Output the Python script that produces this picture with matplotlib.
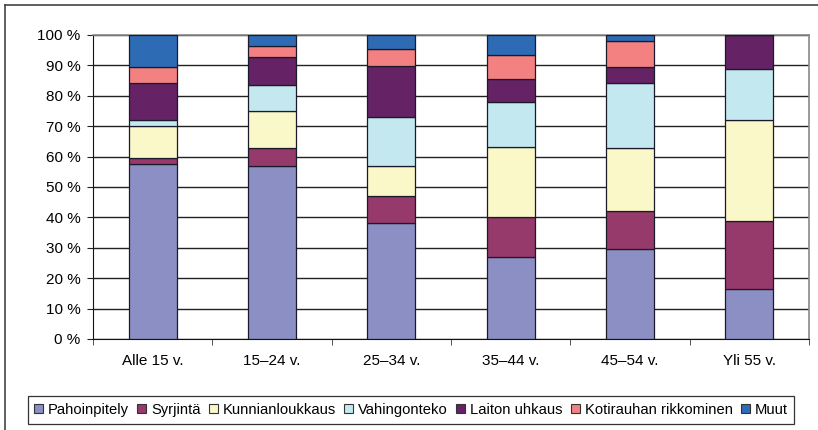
import numpy as np
import matplotlib
matplotlib.use("Agg")
import matplotlib.pyplot as plt
from matplotlib.patches import Patch
from matplotlib.lines import Line2D

plt.rcParams['font.family'] = ['Liberation Sans', 'DejaVu Sans']

categories = ["Alle 15 v.", "15\u201324 v.", "25\u201334 v.", "35\u201344 v.", "45\u201354 v.", "Yli 55 v."]
series_names = ["Pahoinpitely", "Syrjintä", "Kunnianloukkaus", "Vahingonteko",
                "Laiton uhkaus", "Kotirauhan rikkominen", "Muut"]

pahoinpitely = [57.5, 57.0, 38.2, 27.1, 29.5, 16.5]
syrjinta = [2.1, 5.9, 8.8, 12.9, 12.5, 22.3]
kunnianloukkaus = [10.5, 12.1, 10.0, 23.1, 20.8, 33.4]
vahingonteko = [2.1, 8.7, 15.9, 14.7, 21.3, 16.7]
laiton_uhkaus = [12.0, 9.0, 17.0, 7.7, 5.3, 11.1]
kotirauhan = [5.4, 3.6, 5.4, 7.9, 8.7, 0.0]
muut = [10.4, 3.7, 4.7, 6.6, 1.9, 0.0]

colors = ["#8C8FC4", "#963A6B", "#FAF8C8", "#C4E8F0", "#652366", "#F38181", "#2E6BB5"]

data = [pahoinpitely, syrjinta, kunnianloukkaus, vahingonteko, laiton_uhkaus, kotirauhan, muut]

fig = plt.figure(figsize=(8.18, 4.30), dpi=100)
ax = fig.add_axes([93 / 818, 1 - 339 / 430, (809 - 93) / 818, (339 - 35) / 430])

x = np.arange(len(categories))
bottom = np.zeros(len(categories))
for vals, col, name in zip(data, colors, series_names):
    vals = np.array(vals)
    ax.bar(x, vals, 0.405, bottom=bottom, color=col, edgecolor="#1a1a2a",
           linewidth=0.9, label=name, zorder=3)
    bottom += vals

ax.set_xlim(-0.5, len(categories) - 0.5)
ax.set_ylim(0, 100)
ax.set_yticks(np.arange(0, 101, 10))
ax.set_yticklabels([f"{v} %" for v in range(0, 101, 10)])
ax.yaxis.grid(True, color="#222222", linewidth=1.0, zorder=0)
ax.set_axisbelow(True)

ax.set_xticks(x)
ax.set_xticklabels(categories)
ax.set_xticks(np.arange(-0.5, len(categories), 1), minor=True)
ax.tick_params(axis="x", which="major", length=0, pad=11, labelsize=11)
ax.tick_params(axis="x", which="minor", length=4, direction="out", color="#333344")
ax.tick_params(axis="y", length=4, direction="out", labelsize=11, pad=5, color="#222222")

for s in ["top", "right"]:
    ax.spines[s].set_color("#888888")
    ax.spines[s].set_linewidth(1.2)
ax.spines["left"].set_color("#111122")
ax.spines["bottom"].set_color("#111122")

handles = [Patch(facecolor=c, edgecolor="#333333", linewidth=0.8) for c in colors]
leg = fig.legend(handles, series_names, loc="center", bbox_to_anchor=(411 / 818, 1 - 410 / 430),
                 ncol=7, fontsize=10.6, frameon=True, fancybox=False, edgecolor="#000000",
                 handlelength=0.6, handleheight=0.6, handletextpad=0.35, columnspacing=0.55,
                 borderpad=0.45)
leg.get_frame().set_linewidth(0.9)

# outer chart border
fig.add_artist(Line2D([5 / 818, 5 / 818], [0, 1 - 5 / 430], color="#444444", linewidth=1.2))
fig.add_artist(Line2D([5 / 818, 1], [1 - 5 / 430, 1 - 5 / 430], color="#444444", linewidth=1.2))

fig.savefig("out.png", dpi=100)
